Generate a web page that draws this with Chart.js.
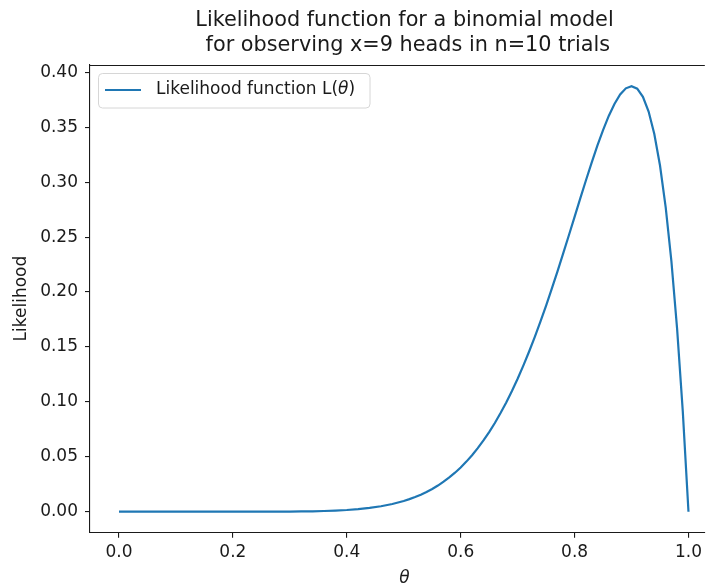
<!DOCTYPE html>
<html>
<head>
<meta charset="utf-8">
<script src="https://cdn.jsdelivr.net/npm/chart.js@4/dist/chart.umd.min.js"></script>
<style>
  html, body { margin: 0; padding: 0; background: #fff; }
  #wrap { width: 707px; height: 588px; }
</style>
</head>
<body>
<div id="wrap"><canvas id="c" width="707" height="588"></canvas></div>
<script>
// Parameter grid (theta) and the binomial likelihood at each point
const thetaValues = [0.00, 0.02, 0.04, 0.06, 0.08, 0.10, 0.12, 0.14, 0.16, 0.18,
  0.20, 0.22, 0.24, 0.26, 0.28, 0.30, 0.32, 0.34, 0.36, 0.38,
  0.40, 0.42, 0.44, 0.46, 0.48, 0.50, 0.51, 0.52, 0.53, 0.54,
  0.55, 0.56, 0.57, 0.58, 0.59, 0.60, 0.61, 0.62, 0.63, 0.64,
  0.65, 0.66, 0.67, 0.68, 0.69, 0.70, 0.71, 0.72, 0.73, 0.74,
  0.75, 0.76, 0.77, 0.78, 0.79, 0.80, 0.81, 0.82, 0.83, 0.84,
  0.85, 0.86, 0.87, 0.88, 0.89, 0.90, 0.91, 0.92, 0.93, 0.94,
  0.95, 0.96, 0.97, 0.98, 0.99, 1.00];
const likelihoodValues = [0, 0, 0, 0, 0, 0, 0, 0, 0, 0,
  0.00000, 0.00001, 0.00002, 0.00004, 0.00008, 0.00014, 0.00024, 0.00040, 0.00065, 0.00102,
  0.00157, 0.00236, 0.00346, 0.00498, 0.00703, 0.00977, 0.01144, 0.01334, 0.01551, 0.01796,
  0.02072, 0.02383, 0.02731, 0.03120, 0.03552, 0.04031, 0.04561, 0.05144, 0.05785, 0.06485,
  0.07249, 0.08079, 0.08978, 0.09948, 0.10990, 0.12106, 0.13296, 0.14560, 0.15895, 0.17301,
  0.18771, 0.20302, 0.21885, 0.23511, 0.25169, 0.26844, 0.28518, 0.30172, 0.31780, 0.33315,
  0.34743, 0.36026, 0.37121, 0.37977, 0.38539, 0.38742, 0.38514, 0.37773, 0.36429, 0.34380,
  0.31512, 0.27701, 0.22807, 0.16675, 0.09135, 0];

const xTickValues = [0.0, 0.2, 0.4, 0.6, 0.8, 1.0];
const yTickValues = [0.00, 0.05, 0.10, 0.15, 0.20, 0.25, 0.30, 0.35, 0.40];

const titleLines = ['Likelihood function for a binomial model', ' for observing x=9 heads in n=10 trials'];
const seriesLabel = 'Likelihood function L(θ)';
const xAxisLabel = 'θ';
const yAxisLabel = 'Likelihood';

const FONT = '"DejaVu Sans", sans-serif';
const INK = '#1a1a1a';
const LINE_BLUE = '#1f77b4';
const TICK_SIZE = 17;
const TITLE_SIZE = 20.8;

const points = thetaValues.map((t, i) => ({ x: t, y: likelihoodValues[i] }));

// Title, axis labels, top spine and the framed legend
const decorations = {
  id: 'decorations',
  afterDraw(chart) {
    const ctx = chart.ctx;
    const area = chart.chartArea;
    const cx = (area.left + 719) / 2;
    ctx.save();

    // top spine
    ctx.strokeStyle = INK;
    ctx.lineWidth = 1.1;
    ctx.beginPath();
    ctx.moveTo(area.left, Math.round(area.top) + 0.5);
    ctx.lineTo(area.right, Math.round(area.top) + 0.5);
    ctx.stroke();

    // title
    ctx.fillStyle = INK;
    ctx.textAlign = 'center';
    ctx.textBaseline = 'alphabetic';
    ctx.font = TITLE_SIZE + 'px ' + FONT;
    ctx.fillText(titleLines[0], cx, 26);
    ctx.fillText(titleLines[1], cx, 50.5);

    // x axis label
    ctx.font = 'italic ' + TICK_SIZE + 'px ' + FONT;
    ctx.textBaseline = 'middle';
    ctx.fillText(xAxisLabel, cx, 579);

    // y axis label
    ctx.save();
    ctx.translate(22, (area.top + area.bottom) / 2);
    ctx.rotate(-Math.PI / 2);
    ctx.font = TICK_SIZE + 'px ' + FONT;
    ctx.fillText(yAxisLabel, 0, 0);
    ctx.restore();

    // legend
    const bx = 98.5, by = 73.5, bw = 271.5, bh = 34.5, r = 4;
    ctx.beginPath();
    ctx.moveTo(bx + r, by);
    ctx.lineTo(bx + bw - r, by);
    ctx.arcTo(bx + bw, by, bx + bw, by + r, r);
    ctx.lineTo(bx + bw, by + bh - r);
    ctx.arcTo(bx + bw, by + bh, bx + bw - r, by + bh, r);
    ctx.lineTo(bx + r, by + bh);
    ctx.arcTo(bx, by + bh, bx, by + bh - r, r);
    ctx.lineTo(bx, by + r);
    ctx.arcTo(bx, by, bx + r, by, r);
    ctx.closePath();
    ctx.fillStyle = 'rgba(255,255,255,0.8)';
    ctx.fill();
    ctx.strokeStyle = '#d6d6d6';
    ctx.lineWidth = 1;
    ctx.stroke();

    const ds = chart.data.datasets[0];
    ctx.strokeStyle = ds.borderColor;
    ctx.lineWidth = ds.borderWidth;
    ctx.beginPath();
    ctx.moveTo(105, 90);
    ctx.lineTo(141, 90);
    ctx.stroke();

    ctx.fillStyle = INK;
    ctx.textAlign = 'left';
    ctx.textBaseline = 'middle';
    ctx.font = TICK_SIZE + 'px ' + FONT;
    const base = ds.label.replace('θ)', '');
    ctx.fillText(base, 156, 90);
    let w = ctx.measureText(base).width;
    ctx.font = 'italic ' + TICK_SIZE + 'px ' + FONT;
    ctx.fillText('θ', 156 + w, 90);
    w += ctx.measureText('θ').width;
    ctx.font = TICK_SIZE + 'px ' + FONT;
    ctx.fillText(')', 156 + w, 90);

    ctx.restore();
  }
};

new Chart(document.getElementById('c'), {
  type: 'line',
  data: {
    datasets: [{
      label: seriesLabel,
      data: points,
      borderColor: LINE_BLUE,
      backgroundColor: LINE_BLUE,
      borderWidth: 2.2,
      pointRadius: 0,
      tension: 0,
      fill: false
    }]
  },
  options: {
    responsive: false,
    animation: false,
    layout: { padding: { top: 64.5, left: 0, right: 0, bottom: 0 } },
    plugins: {
      legend: { display: false },
      title: { display: false },
      tooltip: { enabled: false }
    },
    scales: {
      x: {
        type: 'linear',
        min: -0.0509,
        max: 1.0287,
        afterBuildTicks: (s) => { s.ticks = xTickValues.map(v => ({ value: v })); },
        afterFit: (s) => { s.height = 55.3; },
        ticks: {
          color: INK,
          font: { family: FONT, size: TICK_SIZE },
          padding: 5,
          maxRotation: 0,
          callback: (v) => Number(v).toFixed(1)
        },
        grid: { display: true, drawOnChartArea: false, drawTicks: true, tickLength: 5, color: INK, lineWidth: 1.1 },
        border: { display: true, color: INK, width: 1.1 }
      },
      y: {
        type: 'linear',
        min: -0.0191,
        max: 0.4071,
        afterBuildTicks: (s) => { s.ticks = yTickValues.map(v => ({ value: v })); },
        afterFit: (s) => { s.width = 90; },
        ticks: {
          color: INK,
          font: { family: FONT, size: TICK_SIZE },
          padding: 7,
          callback: (v) => Number(v).toFixed(2)
        },
        grid: { display: true, drawOnChartArea: false, drawTicks: true, tickLength: 5, color: INK, lineWidth: 1.1 },
        border: { display: true, color: INK, width: 1.1 }
      }
    }
  },
  plugins: [decorations]
});
</script>
</body>
</html>
